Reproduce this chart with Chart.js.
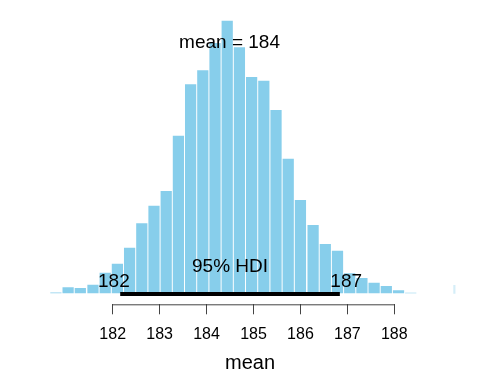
<!DOCTYPE html>
<html>
<head>
<meta charset="utf-8">
<script src="https://cdn.jsdelivr.net/npm/chart.js@4/dist/chart.umd.min.js"></script>
<style>
  body { margin: 0; background: #fff; }
  #wrap { width: 480px; height: 384px; }
</style>
</head>
<body>
<div id="wrap"><canvas id="postChart" width="480" height="384"></canvas></div>
<script>
// posterior histogram of "mean" (bin centres and densities)
const binCenters = [180.79, 181.05, 181.31, 181.58, 181.84, 182.10, 182.36, 182.62, 182.88, 183.14,
                    183.40, 183.66, 183.92, 184.18, 184.44, 184.70, 184.96, 185.22, 185.48, 185.74,
                    186.00, 186.27, 186.53, 186.79, 187.05, 187.31, 187.57, 187.83, 188.09, 188.35];
const densities = [0.001, 0.0083, 0.0073, 0.0118, 0.0283, 0.0407, 0.0627, 0.0963, 0.1205, 0.1407,
                   0.2168, 0.2875, 0.3067, 0.3443, 0.3750, 0.3384, 0.2975, 0.2924, 0.2521, 0.1851,
                   0.1283, 0.0939, 0.0678, 0.0586, 0.0275, 0.0210, 0.0146, 0.0100, 0.0041, 0.0007];
// the last, very narrow bin out at the max sample
const tailX = [189.28];
const tailDensity = [0.011];

const tickValues = [182, 183, 184, 185, 186, 187, 188];
const meanValue = 184.49;
const hdiLow = 182.16;
const hdiHigh = 186.84;
const hdiLabel = "95% HDI";
const paramName = "mean";

const barColor = "#87CEEB";
const FONT = "'Liberation Sans', Arial, Helvetica, sans-serif";

const maxDens = Math.max.apply(null, densities);

const postAnnot = {
  id: "postAnnot",
  afterDatasetsDraw(chart) {
    const ctx = chart.ctx;
    const xs = chart.scales.x, ys = chart.scales.y;
    const y0 = ys.getPixelForValue(0);
    const xa = xs.getPixelForValue(hdiLow), xb = xs.getPixelForValue(hdiHigh);
    ctx.save();

    // axis line only over the tick range, like R's axis()
    const bottom = chart.chartArea.bottom;
    ctx.strokeStyle = "#444";
    ctx.lineWidth = 1;
    ctx.beginPath();
    ctx.moveTo(xs.getPixelForValue(tickValues[0]), bottom + 0.5);
    ctx.lineTo(xs.getPixelForValue(tickValues[tickValues.length - 1]), bottom + 0.5);
    ctx.stroke();

    // HDI bar
    ctx.strokeStyle = "#000";
    ctx.lineWidth = 4;
    ctx.lineCap = "butt";
    ctx.beginPath();
    ctx.moveTo(xa, y0 + 0.7);
    ctx.lineTo(xb, y0 + 0.7);
    ctx.stroke();

    ctx.fillStyle = "#000";
    ctx.font = "19px " + FONT;
    ctx.textBaseline = "alphabetic";
    ctx.textAlign = "left";

    const lowTxt = hdiLow.toPrecision(3).replace(/\.0+$/, "");
    const highTxt = hdiHigh.toPrecision(3).replace(/\.0+$/, "");
    const wl = ctx.measureText(lowTxt).width;
    const wh = ctx.measureText(highTxt).width;
    ctx.fillText(lowTxt, xa - 0.7 * wl, y0 - 6);
    ctx.fillText(highTxt, xb - 0.3 * wh, y0 - 6);

    ctx.textAlign = "center";
    ctx.fillText(hdiLabel, (xa + xb) / 2, y0 - 21.6);

    const meanTxt = paramName + " = " + meanValue.toPrecision(3).replace(/\.0+$/, "");
    ctx.fillText(meanTxt, xs.getPixelForValue(meanValue), ys.getPixelForValue(0.9 * maxDens));
    ctx.restore();
  }
};

new Chart(document.getElementById("postChart").getContext("2d"), {
  type: "bar",
  data: {
    datasets: [
      {
        data: binCenters.map((x, i) => ({ x: x, y: densities[i] })),
        backgroundColor: barColor,
        borderWidth: 0,
        barPercentage: 0.92,
        categoryPercentage: 1.0,
        grouped: false
      },
      {
        data: tailX.map((x, i) => ({ x: x, y: tailDensity[i] })),
        backgroundColor: "#d5eef8",
        borderWidth: 0,
        barThickness: 1.5,
        grouped: false
      }
    ]
  },
  options: {
    responsive: false,
    animation: false,
    layout: { padding: { left: 40, right: 20, top: 10, bottom: 6.9 } },
    plugins: { legend: { display: false }, tooltip: { enabled: false } },
    scales: {
      x: {
        type: "linear",
        min: 180.451,
        max: 189.4,
        offset: false,
        afterBuildTicks: (scale) => { scale.ticks = tickValues.map(v => ({ value: v })); },
        border: { display: false },
        grid: { offset: false, drawOnChartArea: false, drawTicks: true, tickLength: 10, color: "#444", lineWidth: 1 },
        ticks: {
          padding: 11.9,
          color: "#000",
          font: { family: FONT, size: 16, lineHeight: 1 },
          maxRotation: 0,
          autoSkip: false,
          callback: (v) => String(v)
        },
        title: {
          display: true,
          text: paramName,
          color: "#000",
          padding: { top: 0, bottom: 5 },
          font: { family: FONT, size: 20, lineHeight: 0.9 }
        }
      },
      y: {
        display: false,
        min: -0.01513,
        max: 0.3897
      }
    }
  },
  plugins: [postAnnot]
});
</script>
</body>
</html>
